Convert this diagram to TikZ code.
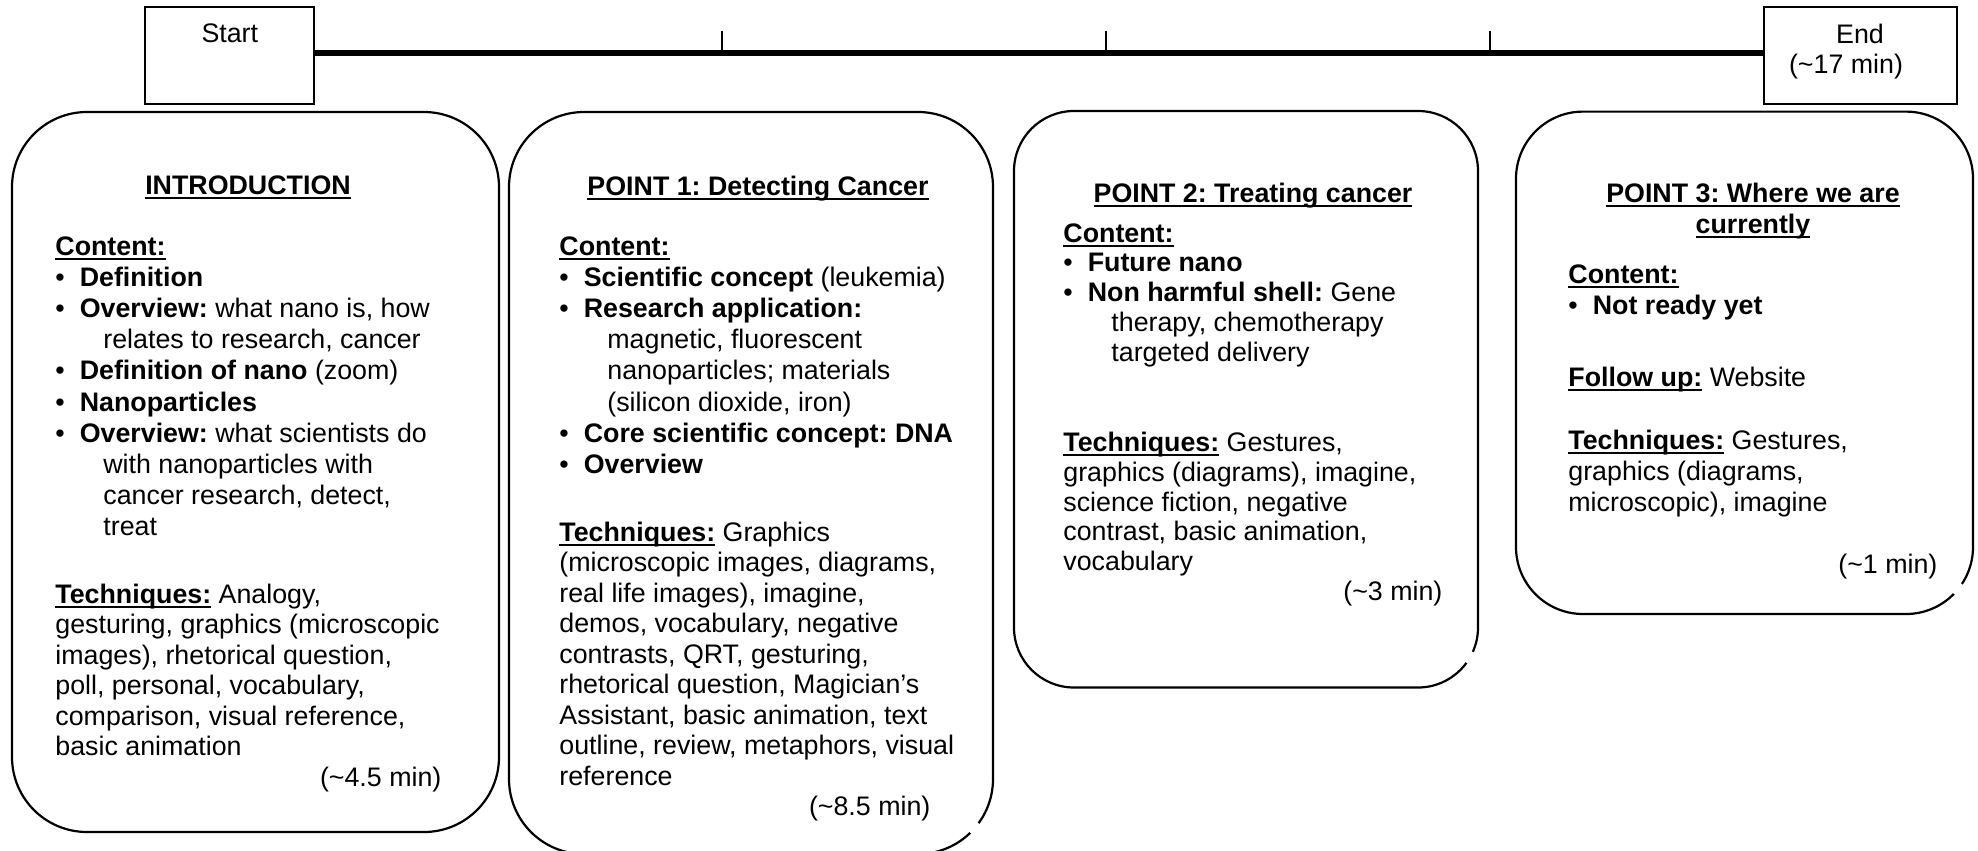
\documentclass[tikz,border=0pt]{standalone}
\usepackage{fontspec}
\setmainfont{Liberation Sans}
\usepackage{graphicx}

% body text size and helpers for the outline boxes
\newcommand\bodyfont{\fontsize{13.4pt}{15.6pt}\selectfont\frenchspacing}
\newcommand\techfont{\fontsize{13.4pt}{15.27pt}\selectfont\frenchspacing}
\newcommand\tightfont{\fontsize{13.4pt}{14.95pt}\selectfont\frenchspacing}
\newcommand\uln[1]{\leavevmode\setbox0\hbox{#1}\rlap{\rule[-2.4pt]{\wd0}{1pt}}\box0\relax}
\newcommand\bul{\makebox[12.2pt][l]{\textbullet}}
\newcommand\ind{\hspace*{24pt}}
\newcommand\mins[2]{\hbox to #1{\hfil(\textasciitilde#2 min)}}

\begin{document}
\begin{tikzpicture}[x=0.5pt,y=-0.5pt,
  secbox/.style={draw, line width=1.1pt, rectangle, inner sep=0pt},
  tbox/.style={draw, line width=1pt, rectangle, inner sep=0pt},
  txt/.style={inner sep=0pt, anchor=base west},
  ttl/.style={inner sep=0pt, anchor=base, font=\bodyfont\bfseries},
  lbl/.style={inner sep=0pt, anchor=base, font=\bodyfont},
  timeline/.style={line width=3pt},
  tickmark/.style={line width=1pt}]

\useasboundingbox (0,0) rectangle (1978,851);

% ---------- time line ----------
\node[tbox, minimum width=84.5pt, minimum height=48.4pt] (start) at (229.8,55.7) {};
\node[tbox, minimum width=96.5pt, minimum height=48.4pt] (end) at (1860.2,55.7) {};
\node[lbl] (startlbl) at (229.8,42.7) {Start};
\node[lbl] (endlbl) at (1860,43.3) {End};
\node[lbl] (endtime) at (1846,73.3) {(\textasciitilde17 min)};

\draw[timeline] ([yshift=1.6pt]start.east) -- ([yshift=1.6pt]end.west);
\foreach \tx in {722,1106,1490}
  \draw[tickmark] (\tx,31) -- (\tx,56);

% ---------- section boxes ----------
\node[secbox, rounded corners=37.5pt, minimum width=243.5pt, minimum height=360pt] (intro) at (255.5,472) {};
\node[secbox, rounded corners=37.5pt, minimum width=242pt, minimum height=371pt] (pone) at (751,483) {};
\node[secbox, rounded corners=30pt, minimum width=232pt, minimum height=288.25pt] (ptwo) at (1246,399.25) {};
\node[secbox, rounded corners=33.5pt, minimum width=228.5pt, minimum height=251.2pt] (pthree) at (1744.5,362.8) {};

% small breaks in the lower right corners
\fill[white] (974.6,828.2) circle (3.2pt);
\fill[white] (1470,657.5) circle (3.2pt);
\fill[white] (1958,589) circle (3.2pt);

% ---------- INTRODUCTION ----------
\node[ttl] (introttl) at (248,194) {\uln{INTRODUCTION}};
\node[txt] (introcont) at (55,255) {\vtop{\bodyfont
  \hbox{\uln{\textbf{Content:}}}
  \hbox{\bul\textbf{Definition}}
  \hbox{\bul\textbf{Overview:} what nano is, how}
  \hbox{\ind relates to research, cancer}
  \hbox{\bul\textbf{Definition of nano} (zoom)}
  \hbox{\bul\textbf{Nanoparticles}}
  \hbox{\bul\textbf{Overview:} what scientists do}
  \hbox{\ind with nanoparticles with}
  \hbox{\ind cancer research, detect,}
  \hbox{\ind treat}}};
\node[txt] (introtech) at (55,603) {\vtop{\techfont
  \hbox{\uln{\textbf{Techniques:}} Analogy,}
  \hbox{gesturing, graphics (microscopic}
  \hbox{images), rhetorical question,}
  \hbox{poll, personal, vocabulary,}
  \hbox{comparison, visual reference,}
  \hbox{basic animation}
  \mins{193pt}{4.5}}};

% ---------- POINT 1 ----------
\node[ttl] (ponettl) at (758,195) {\uln{POINT 1: Detecting Cancer}};
\node[txt] (ponecont) at (559,255) {\vtop{\bodyfont
  \hbox{\uln{\textbf{Content:}}}
  \hbox{\bul\textbf{Scientific concept} (leukemia)}
  \hbox{\bul\textbf{Research application:}}
  \hbox{\ind magnetic, fluorescent}
  \hbox{\ind nanoparticles; materials}
  \hbox{\ind (silicon dioxide, iron)}
  \hbox{\bul\textbf{Core scientific concept: DNA}}
  \hbox{\bul\textbf{Overview}}}};
\node[txt] (ponetech) at (559,541) {\vtop{\techfont
  \hbox{\uln{\textbf{Techniques:}} Graphics}
  \hbox{(microscopic images, diagrams,}
  \hbox{real life images), imagine,}
  \hbox{demos, vocabulary, negative}
  \hbox{contrasts, QRT, gesturing,}
  \hbox{rhetorical question, Magician’s}
  \hbox{Assistant, basic animation, text}
  \hbox{outline, review, metaphors, visual}
  \hbox{reference}
  \mins{185.5pt}{8.5}}};

% ---------- POINT 2 ----------
\node[ttl] (ptwottl) at (1253,202) {\uln{POINT 2: Treating cancer}};
\node[txt] (ptwotxt) at (1063,242) {\vtop{\tightfont
  \hbox{\uln{\textbf{Content:}}}
  \hbox{\bul\textbf{Future nano}}
  \hbox{\bul\textbf{Non harmful shell:} Gene}
  \hbox{\ind therapy, chemotherapy}
  \hbox{\ind targeted delivery}
  \hbox{}
  \hbox{}
  \hbox{\uln{\textbf{Techniques:}} Gestures,}
  \hbox{graphics (diagrams), imagine,}
  \hbox{science fiction, negative}
  \hbox{contrast, basic animation,}
  \hbox{vocabulary}
  \mins{189.5pt}{3}}};

% ---------- POINT 3 ----------
\node[ttl] (pthreettla) at (1753,202.5) {\uln{POINT 3: Where we are}};
\node[ttl] (pthreettlb) at (1753,233.5) {\uln{currently}};
\node[txt] (pthreecont) at (1568,283) {\vtop{\bodyfont
  \hbox{\uln{\textbf{Content:}}}
  \hbox{\bul\textbf{Not ready yet}}}};
\node[txt] (pthreetxt) at (1568,386.6) {\vtop{\bodyfont
  \hbox{\uln{\textbf{Follow up:}} Website}
  \hbox{}
  \hbox{\uln{\textbf{Techniques:}} Gestures,}
  \hbox{graphics (diagrams,}
  \hbox{microscopic), imagine}
  \hbox{}
  \mins{184.5pt}{1}}};

\end{tikzpicture}
\end{document}
